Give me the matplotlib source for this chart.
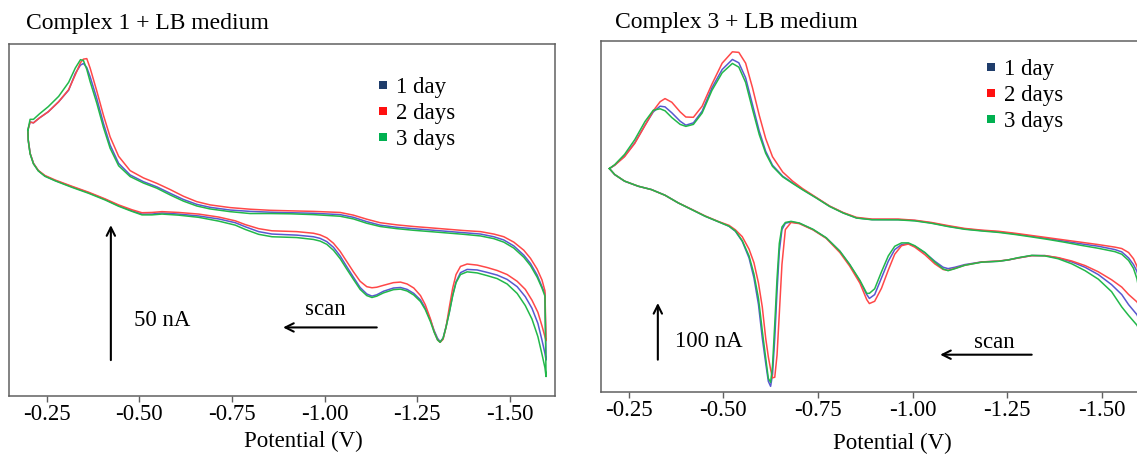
import matplotlib
matplotlib.use('Agg')
import matplotlib.pyplot as plt
from matplotlib.lines import Line2D

plt.rcParams['font.family'] = ['Liberation Serif', 'DejaVu Serif']
plt.rcParams['axes.unicode_minus'] = False

# ---------------- data ----------------
series_labels = ['1 day', '2 days', '3 days']
line_colors = ['#5858d0', '#ff4848', '#22b84a']
marker_colors = ['#1f3d6b', '#ff1010', '#00b050']
tick_values = [-0.25, -0.50, -0.75, -1.00, -1.25, -1.50]
tick_labels = ['-0.25', '-0.50', '-0.75', '-1.00', '-1.25', '-1.50']

# Complex 1 + LB medium : potential (V), current (nA)
c1_upper_V = [-0.199, -0.205, -0.214, -0.230, -0.254, -0.282, -0.309, -0.327, -0.341, -0.349,
              -0.358, -0.367, -0.385, -0.403, -0.421, -0.444, -0.475, -0.511, -0.547, -0.583,
              -0.619, -0.655, -0.691, -0.745, -0.799, -0.853, -0.908, -0.970, -1.042, -1.078,
              -1.114, -1.150, -1.195, -1.240, -1.286, -1.331, -1.376, -1.421, -1.457, -1.484,
              -1.511, -1.538, -1.556, -1.574, -1.587, -1.595]
c1_upper_day1 = [98.5, 101.5, 101.2, 103.0, 105.3, 109.0, 113.3, 119.5, 122.6, 123.2,
                 121.7, 118.3, 110.2, 101.0, 93.0, 86.2, 81.9, 79.4, 77.5, 75.1,
                 72.8, 71.0, 69.9, 68.9, 68.4, 68.1, 67.9, 67.7, 67.2, 66.2,
                 64.6, 63.3, 62.5, 62.0, 61.5, 61.0, 60.5, 60.0, 59.0, 57.8,
                 55.6, 52.2, 49.1, 44.8, 40.5, 38.0]
c1_upper_day2 = [98.5, 101.5, 101.2, 103.0, 105.3, 109.0, 113.5, 119.0, 123.5, 124.8,
                 125.0, 121.5, 113.0, 104.0, 96.0, 88.8, 83.5, 80.8, 78.8, 76.5,
                 74.0, 72.0, 70.8, 69.8, 69.2, 68.8, 68.6, 68.4, 68.0, 67.0,
                 65.5, 64.2, 63.4, 62.8, 62.3, 61.8, 61.3, 60.9, 60.0, 59.0,
                 57.0, 54.0, 51.0, 47.0, 43.0, 39.0]
c1_upper_day3 = [98.5, 102.5, 102.5, 104.5, 107.2, 111.0, 116.2, 121.5, 124.6, 124.3,
                 121.0, 116.5, 108.5, 99.5, 91.8, 85.3, 81.3, 78.9, 77.0, 74.5,
                 72.2, 70.4, 69.3, 68.3, 67.6, 67.6, 67.5, 67.2, 66.6, 65.6,
                 64.0, 62.8, 62.0, 61.4, 60.9, 60.4, 59.9, 59.3, 58.3, 57.0,
                 54.8, 51.4, 48.3, 44.0, 40.0, 37.0]
c1_turn_V = -1.598
c1_turn_I = [13.3, 20.5, 7.2]
c1_lower_V = [-1.595, -1.587, -1.576, -1.560, -1.542, -1.520, -1.493, -1.466, -1.439, -1.412,
              -1.385, -1.367, -1.355, -1.346, -1.337, -1.328, -1.320, -1.312, -1.305, -1.296,
              -1.286, -1.272, -1.259, -1.241, -1.223, -1.205, -1.186, -1.159, -1.141, -1.128,
              -1.114, -1.096, -1.078, -1.060, -1.042, -1.024, -1.006, -0.988, -0.970, -0.925,
              -0.858, -0.822, -0.786, -0.759, -0.714, -0.660, -0.606, -0.561, -0.534, -0.507,
              -0.480, -0.444, -0.408, -0.363, -0.318, -0.273, -0.245, -0.227, -0.214, -0.205, -0.200]
c1_lower_day1 = [15.8, 20.7, 26.9, 32.5, 36.8, 40.5, 43.2, 44.8, 45.8, 46.7,
                 46.9, 45.7, 42.3, 37.4, 31.2, 25.7, 21.4, 20.1, 21.4, 24.2,
                 28.1, 32.5, 35.6, 38.0, 39.5, 40.2, 40.0, 38.8, 37.5, 37.0,
                 37.8, 40.2, 44.0, 47.9, 51.9, 55.1, 57.2, 58.4, 59.0, 59.6,
                 60.0, 60.9, 62.7, 64.2, 65.6, 66.7, 67.4, 67.8, 67.4, 67.4,
                 68.6, 70.5, 72.8, 75.3, 77.5, 79.8, 81.5, 83.5, 86.2, 89.9, 94.8]
c1_lower_day2 = [22.0, 26.0, 31.0, 35.5, 39.5, 42.5, 45.0, 46.5, 47.6, 48.5,
                 48.9, 48.0, 45.0, 40.0, 33.0, 25.5, 21.0, 19.9, 20.8, 23.8,
                 28.5, 33.8, 37.2, 40.0, 41.5, 42.2, 42.0, 41.0, 40.3, 40.1,
                 40.5, 42.5, 46.0, 49.8, 53.6, 56.6, 58.6, 59.7, 60.3, 60.9,
                 61.2, 62.0, 63.5, 64.9, 66.3, 67.4, 68.0, 68.3, 68.0, 67.9,
                 69.0, 70.8, 73.0, 75.5, 77.7, 80.0, 81.7, 83.6, 86.2, 89.9, 94.8]
c1_lower_day3 = [10.5, 15.5, 22.0, 28.5, 33.5, 38.0, 41.5, 43.5, 44.6, 45.6,
                 46.0, 45.0, 42.0, 37.2, 31.0, 25.5, 21.4, 19.9, 20.8, 23.6,
                 27.5, 32.0, 35.0, 37.4, 38.9, 39.6, 39.4, 38.2, 37.0, 36.5,
                 37.2, 39.5, 43.2, 47.0, 50.9, 54.0, 56.2, 57.4, 58.0, 58.7,
                 59.0, 59.9, 61.7, 63.3, 64.8, 66.2, 67.0, 67.4, 67.1, 67.1,
                 68.4, 70.3, 72.6, 75.1, 77.3, 79.7, 81.4, 83.4, 86.0, 89.7, 94.6]

# Complex 3 + LB medium : potential (V), current (nA)
c3_upper_V = [-0.199, -0.213, -0.239, -0.266, -0.293, -0.315, -0.333, -0.346, -0.364, -0.386,
              -0.401, -0.421, -0.444, -0.470, -0.497, -0.524, -0.541, -0.559, -0.577, -0.595,
              -0.612, -0.630, -0.657, -0.683, -0.710, -0.746, -0.781, -0.817, -0.852, -0.893,
              -0.962, -1.006, -1.050, -1.094, -1.138, -1.183, -1.227, -1.271, -1.315, -1.359,
              -1.403, -1.447, -1.491, -1.535, -1.553, -1.571, -1.584, -1.593, -1.600]
c3_upper_day1 = [394.1, 400.0, 415.9, 439.4, 470.6, 494.1, 504.1, 502.9, 492.4, 477.6,
                 470.6, 474.7, 495.3, 536.5, 568.8, 586.5, 580.6, 554.1, 507.1, 460.0,
                 424.7, 400.0, 380.6, 368.8, 357.1, 342.4, 327.6, 315.9, 307.1, 304.1,
                 304.1, 302.4, 298.2, 292.4, 287.6, 284.7, 282.4, 278.8, 274.7, 270.6,
                 265.9, 261.2, 257.1, 251.2, 247.1, 236.5, 224.7, 212.9, 195.0]
c3_upper_day2 = [394.1, 400.0, 415.0, 438.5, 470.0, 496.0, 512.0, 517.5, 511.0, 494.0,
                 485.0, 484.5, 504.0, 543.0, 580.0, 600.0, 599.0, 580.0, 537.0, 488.0,
                 447.0, 415.0, 388.0, 372.0, 358.5, 343.0, 328.0, 316.5, 308.0, 305.0,
                 305.0, 303.0, 299.0, 293.5, 288.5, 285.5, 283.5, 280.0, 276.0, 272.0,
                 268.0, 264.0, 260.0, 255.5, 253.0, 246.0, 235.0, 222.0, 205.0]
c3_upper_day3 = [394.1, 401.0, 419.0, 445.0, 477.0, 497.0, 499.5, 496.0, 484.0, 472.0,
                 468.5, 472.0, 492.0, 532.0, 563.0, 579.5, 573.0, 546.0, 499.0, 454.0,
                 421.0, 398.0, 379.5, 368.0, 356.5, 342.0, 327.2, 315.6, 306.8, 303.8,
                 303.6, 301.8, 297.6, 291.8, 287.0, 284.0, 281.5, 277.8, 273.5, 269.0,
                 264.0, 258.5, 253.5, 247.5, 243.0, 232.0, 218.0, 200.0, 175.0]
c3_turn_V = -1.603
c3_turn_I = [122.0, 148.0, 105.0]
c3_lower_V = [-1.593, -1.571, -1.553, -1.526, -1.491, -1.456, -1.421, -1.385, -1.350, -1.315,
              -1.280, -1.253, -1.227, -1.183, -1.138, -1.112, -1.094, -1.081, -1.059, -1.033,
              -1.006, -0.989, -0.971, -0.953, -0.936, -0.918, -0.900, -0.886, -0.879, -0.861,
              -0.834, -0.808, -0.772, -0.737, -0.701, -0.679, -0.664, -0.655, -0.648, -0.642,
              -0.636, -0.630, -0.625, -0.619, -0.612, -0.603, -0.593, -0.581, -0.568, -0.550,
              -0.532, -0.515, -0.488, -0.452, -0.417, -0.381, -0.346, -0.310, -0.275, -0.239, -0.213]
c3_lower_day1 = [136.5, 154.1, 171.8, 189.4, 207.1, 220.0, 229.4, 236.5, 240.6, 240.6,
                 236.5, 232.9, 230.6, 229.4, 224.7, 220.0, 217.6, 220.0, 230.6, 245.3,
                 257.1, 261.8, 260.0, 251.2, 230.6, 201.2, 171.8, 165.0, 172.0, 195.3,
                 224.7, 248.2, 271.8, 286.5, 297.6, 300.0, 297.6, 286.5, 248.2, 177.6,
                 95.3, 30.6, 10.0, 18.8, 51.2, 95.3, 154.1, 201.2, 236.5, 265.9,
                 283.5, 292.4, 300.0, 310.0, 321.8, 333.5, 347.1, 357.1, 362.9, 371.8, 383.5]
c3_lower_day2 = [159.0, 172.0, 185.0, 198.0, 212.0, 223.0, 231.0, 237.0, 240.5, 240.5,
                 236.5, 233.0, 231.0, 229.4, 223.5, 218.0, 214.5, 216.0, 226.0, 242.0,
                 255.5, 261.0, 258.0, 243.0, 215.0, 183.0, 160.0, 156.0, 163.0, 192.0,
                 222.0, 246.0, 271.0, 286.0, 297.0, 299.0, 286.5, 225.0, 138.0, 65.0,
                 26.0, 25.0, 40.0, 62.0, 95.0, 150.0, 192.0, 228.0, 252.0, 274.0,
                 286.0, 294.0, 300.5, 310.5, 322.0, 333.5, 347.0, 357.0, 363.0, 372.0, 383.5]
c3_lower_day3 = [118.0, 135.0, 150.0, 177.0, 199.0, 214.0, 226.0, 235.0, 240.0, 241.0,
                 237.0, 233.0, 230.5, 229.0, 223.5, 217.5, 214.0, 217.0, 229.0, 246.0,
                 258.0, 263.0, 263.0, 257.0, 240.0, 212.0, 182.0, 174.0, 174.0, 197.0,
                 225.0, 248.5, 272.0, 287.0, 298.0, 301.0, 299.0, 291.0, 262.0, 200.0,
                 120.0, 45.0, 17.0, 24.0, 60.0, 108.0, 165.0, 208.0, 240.0, 267.0,
                 284.0, 292.5, 300.0, 310.0, 321.5, 333.5, 347.0, 357.0, 363.0, 372.0, 383.5]


def loop(upper_V, upper_I, turn_V, turn_I, lower_V, lower_I):
    V = list(upper_V) + [turn_V] + list(lower_V) + [upper_V[0]]
    I = list(upper_I) + [turn_I] + list(lower_I) + [upper_I[0]]
    return V, I


W, H = 1137, 457
fig = plt.figure(figsize=(W / 100, H / 100), dpi=100)

axL = fig.add_axes([9 / W, 1 - 396 / H, 546.3 / W, 351.7 / H])
axR = fig.add_axes([601.3 / W, 1 - 392 / H, 548.7 / W, 351.3 / H])

panels = [
    (axL, c1_upper_V, [c1_upper_day1, c1_upper_day2, c1_upper_day3], c1_turn_V, c1_turn_I,
     c1_lower_V, [c1_lower_day1, c1_lower_day2, c1_lower_day3]),
    (axR, c3_upper_V, [c3_upper_day1, c3_upper_day2, c3_upper_day3], c3_turn_V, c3_turn_I,
     c3_lower_V, [c3_lower_day1, c3_lower_day2, c3_lower_day3]),
]

for ax, uV, uIs, tV, tIs, lV, lIs in panels:
    for k in range(3):
        V, I = loop(uV, uIs[k], tV, tIs[k], lV, lIs[k])
        ax.plot(V, I, color=line_colors[k], lw=1.1, solid_joinstyle='round')

axL.set_xlim(-0.148, -1.623)
axL.set_ylim(0, 130.3)
axR.set_xlim(-0.1776, -1.6276)
axR.set_ylim(0, 619.6)

for ax in (axL, axR):
    ax.set_xticks(tick_values)
    ax.set_xticklabels(tick_labels)
    ax.set_yticks([])
    ax.tick_params(axis='x', direction='out', length=4, width=1.0, color='#606060',
                   pad=2, labelsize=16.5)
    for s in ax.spines.values():
        s.set_color('#606060')
        s.set_linewidth(1.1)
    ax.set_xlabel('Potential (V)', fontsize=16.5)

axL.xaxis.set_label_coords((303.5 - 9) / 546.3, (396 - 431) / 351.7)
axR.xaxis.set_label_coords((892.5 - 601.3) / 548.7, (392 - 433) / 351.3)

axL.text(17 / 546.3, (396 - 29) / 351.7, 'Complex 1 + LB medium', transform=axL.transAxes,
         fontsize=17, va='baseline', ha='left')
axR.text(14 / 548.7, (392 - 28) / 351.3, 'Complex 3 + LB medium', transform=axR.transAxes,
         fontsize=17, va='baseline', ha='left')

handles = [Line2D([], [], ls='none', marker='s', markersize=5.5, color=c,
                  markeredgewidth=0) for c in marker_colors]
axL.legend(handles, series_labels, loc='upper left',
           bbox_to_anchor=((377 - 9) / 546.3, (396 - 77) / 351.7),
           frameon=False, fontsize=16.5, handlelength=0.55, handletextpad=0.3,
           labelspacing=0.21, borderpad=0, borderaxespad=0)
axR.legend(handles, series_labels, loc='upper left',
           bbox_to_anchor=((985 - 601.3) / 548.7, (392 - 59) / 351.3),
           frameon=False, fontsize=16.5, handlelength=0.55, handletextpad=0.3,
           labelspacing=0.21, borderpad=0, borderaxespad=0)

arrow_kw = dict(arrowstyle='->,head_length=0.6,head_width=0.3', lw=1.5, color='black',
                shrinkA=0, shrinkB=0)
# scale bars
axL.annotate('', xy=(-0.423, 63.3), xytext=(-0.423, 13.3), arrowprops=arrow_kw)
axL.text(-0.486, 28.1, '50 nA', fontsize=16.5, va='center', ha='left')
axR.annotate('', xy=(-0.327, 157), xytext=(-0.327, 57), arrowprops=arrow_kw)
axR.text(-0.373, 89, '100 nA', fontsize=16.5, va='center', ha='left')
# scan direction
axL.annotate('', xy=(-0.888, 25.4), xytext=(-1.141, 25.4), arrowprops=arrow_kw)
axL.text(-1.001, 31.9, 'scan', fontsize=16.5, va='center', ha='center')
axR.annotate('', xy=(-1.073, 65.8), xytext=(-1.315, 65.8), arrowprops=arrow_kw)
axR.text(-1.216, 88, 'scan', fontsize=16.5, va='center', ha='center')

fig.savefig('out.png', dpi=100)
